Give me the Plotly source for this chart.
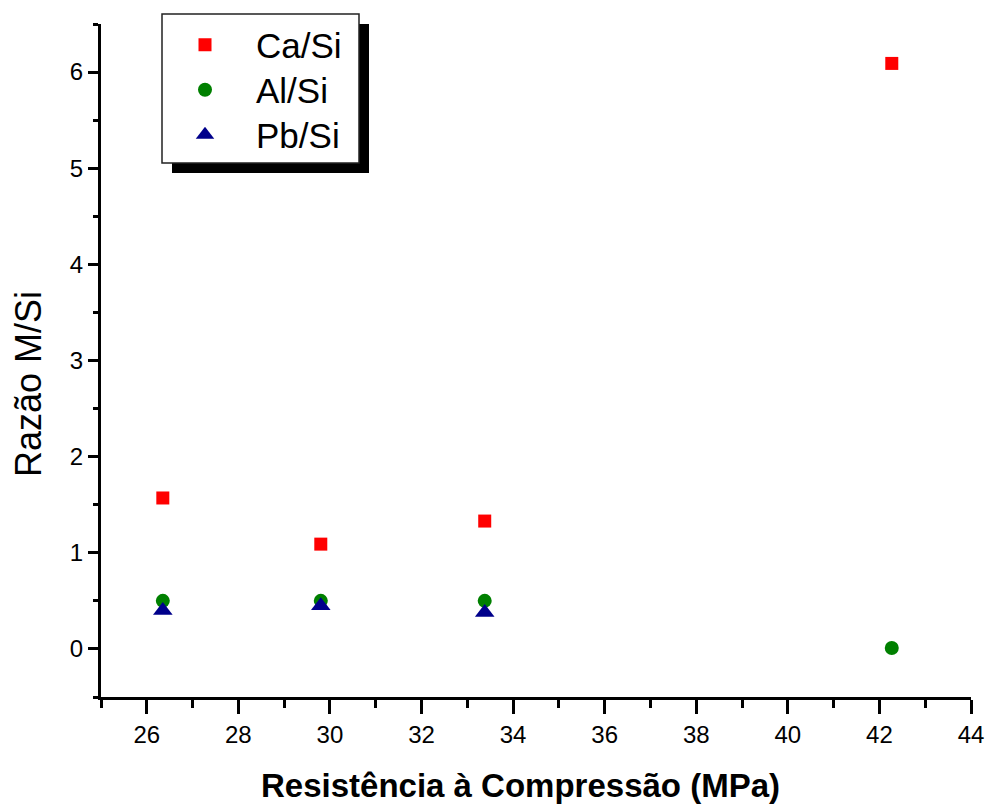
import plotly.graph_objects as go

# Data
ca_x = [26.35, 29.80, 33.38, 42.27]
ca_y = [1.57, 1.09, 1.33, 6.09]
al_x = [26.35, 29.80, 33.38, 42.27]
al_y = [0.50, 0.50, 0.50, 0.01]
pb_x = [26.35, 29.80, 33.38]
pb_y = [0.40, 0.45, 0.38]

x_title = "Resistência à Compressão (MPa)"
y_title = "Razão M/Si"

FONT = "Liberation Sans, Arial, sans-serif"

fig = go.Figure()
fig.add_trace(go.Scatter(x=ca_x, y=ca_y, mode="markers", name="Ca/Si", legend="legend",
                         marker=dict(symbol="square", size=13, color="#ff0000")))
fig.add_trace(go.Scatter(x=al_x, y=al_y, mode="markers", name="Al/Si", legend="legend2",
                         marker=dict(symbol="circle", size=14, color="#008000")))
fig.add_trace(go.Scatter(x=pb_x, y=pb_y, mode="markers", name="Pb/Si", legend="legend3",
                         marker=dict(symbol="triangle-up", size=17, color="#00008b")))

L, R, T, B = 101, 16, 24, 108
W, H = 987, 805
pw, ph = W - L - R, H - T - B

def px(xp):
    return (xp - L) / pw

def py(yp):
    return (H - B - yp) / ph

shapes = [
    dict(type="rect", xref="paper", yref="paper", x0=px(172), x1=px(369), y0=py(173), y1=py(24),
         fillcolor="black", line=dict(width=0), layer="above"),
    dict(type="rect", xref="paper", yref="paper", x0=px(162), x1=px(359), y0=py(163), y1=py(14),
         fillcolor="white", line=dict(color="#222222", width=1.5), layer="above"),
]

def leg(ypix):
    return dict(x=px(154), y=py(ypix), xanchor="left", yanchor="middle",
                bgcolor="rgba(0,0,0,0)", borderwidth=0,
                font=dict(family=FONT, size=35, color="black"),
                itemwidth=92)

annotations = [
    dict(text=x_title, xref="paper", yref="paper", x=px(520), y=py(785),
         xanchor="center", yanchor="middle", showarrow=False,
         font=dict(family=FONT, size=33, color="black", weight="bold")),
    dict(text=y_title, xref="paper", yref="paper", x=px(28), y=py(384),
         xanchor="center", yanchor="middle", showarrow=False, textangle=-90,
         font=dict(family=FONT, size=36, color="black")),
]

fig.update_layout(
    width=W, height=H,
    margin=dict(l=L, r=R, t=T, b=B),
    paper_bgcolor="white", plot_bgcolor="white",
    font=dict(family=FONT, color="black"),
    shapes=shapes,
    annotations=annotations,
    showlegend=True,
    legend=leg(45), legend2=leg(90), legend3=leg(135),
    xaxis=dict(range=[25, 44], tick0=26, dtick=2, ticks="outside", ticklen=14, tickwidth=3,
               tickcolor="black", showline=True, linewidth=3, linecolor="black",
               showgrid=False, zeroline=False, automargin=False,
               tickfont=dict(family=FONT, size=24, color="black"),
               minor=dict(tick0=25, dtick=1, ticks="outside", ticklen=8, tickwidth=3,
                          tickcolor="black", showgrid=False)),
    yaxis=dict(range=[-0.5, 6.5], tick0=0, dtick=1, ticks="outside", ticklen=10, tickwidth=3,
               tickcolor="black", showline=True, linewidth=3, linecolor="black",
               showgrid=False, zeroline=False, automargin=False,
               tickfont=dict(family=FONT, size=24, color="black"),
               minor=dict(tick0=0.5, dtick=1, ticks="outside", ticklen=5, tickwidth=3,
                          tickcolor="black", showgrid=False)),
)

fig.write_html("out.html")
